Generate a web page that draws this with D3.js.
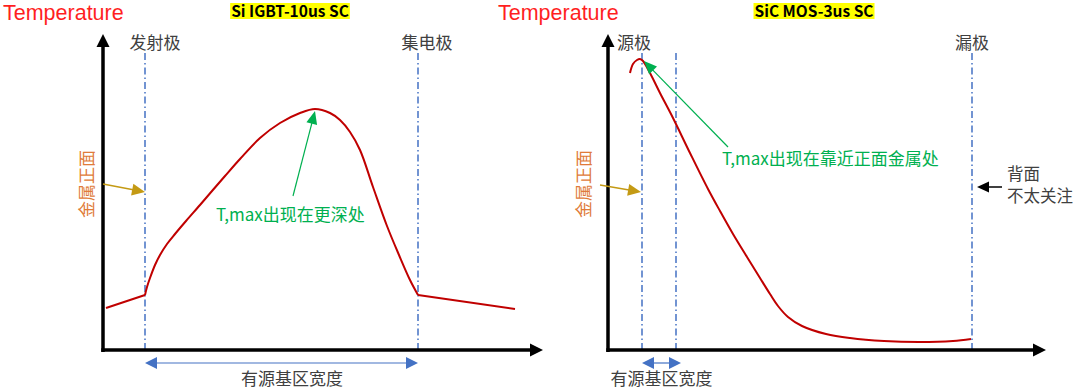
<!DOCTYPE html>
<html><head><meta charset="utf-8">
<script src="https://cdn.jsdelivr.net/npm/d3@7"></script>
<style>
html,body{margin:0;padding:0;background:#fff;}
svg text{font-family:"Noto Sans CJK SC","Noto Sans",sans-serif;}
svg text.temp{font-family:"Liberation Sans",Arial,sans-serif;}
</style></head>
<body><svg id="c" width="1080" height="391"></svg>
<script>
// ---------- data (x: depth units, y: temperature units) ----------
const titles = ["Si IGBT-10us SC", "SiC MOS-3us SC"];
const yLabel = "Temperature";
const leftElectrodes = ["发射极", "集电极"];
const rightElectrodes = ["源极", "漏极"];
const leftLinesX = [10.5, 78.75];
const rightLinesX = [8.5, 17, 91];
// Si IGBT temperature profile: outer straight parts and inner curved part
const igbtLeft = [[0.75, 10.5], [10.5, 13.75]];
const igbtMid = [[10.5, 13.75], [11, 15.75], [11.75, 18], [13, 21.25], [14.25, 23.75], [16, 26.5], [18, 29],
  [20.75, 32.25], [24.25, 36.25], [27.25, 39.75], [30.5, 43.5], [34.25, 47.75], [39.25, 53], [44.25, 56.75],
  [49.25, 59.25], [53, 60.25], [56.75, 59.25], [59.25, 57.5], [61.75, 54.5], [64.25, 50],
  [67.5, 40.75], [71, 31], [74, 23.75], [76.75, 17.5], [78.75, 13.75]];
const igbtRight = [[78.75, 13.75], [103, 10.25]];
// SiC MOSFET temperature profile
const sicCurve = [[5.5, 69.25], [6.25, 71.5], [7.25, 72.5], [8, 72.75], [8.75, 72.25], [10.5, 69.25],
  [13, 64.25], [16.25, 58], [20.5, 49.25], [25, 40.25], [28, 34.75], [31.25, 29], [34.75, 23.25],
  [38, 18], [40.5, 14], [42.5, 11], [45, 8.25], [48.5, 6], [54.5, 4], [60.5, 3], [69, 2.25],
  [77.75, 2], [86.25, 2.25], [90.75, 2.75]];
const frontLabel = "金属正面";
const widthLabel = "有源基区宽度";
const igbtNote = "T,max出现在更深处";
const sicNote = "T,max出现在靠近正面金属处";
const backNote = ["背面", "不太关注"];
const leftWidthSpan = [10.5, 78.75];
const rightWidthSpan = [8.5, 18.25];

// ---------- drawing ----------
const svg = d3.select("#c");
const RED = "#c00000", BLUE = "#4472c4", GREEN = "#00b050", GOLD = "#c49a14", ORANGE = "#e07b39";

function arrow(g, p0, p1, color, w, headL, headW) {
  const dx = p1[0] - p0[0], dy = p1[1] - p0[1], L = Math.hypot(dx, dy);
  const ux = dx / L, uy = dy / L;
  const bx = p1[0] - ux * headL, by = p1[1] - uy * headL;
  g.append("line").attr("x1", p0[0]).attr("y1", p0[1]).attr("x2", bx + ux).attr("y2", by + uy)
    .attr("stroke", color).attr("stroke-width", w);
  g.append("polygon").attr("fill", color)
    .attr("points", [[p1[0], p1[1]], [bx - uy * headW, by + ux * headW], [bx + uy * headW, by - ux * headW]].map(p => p.join(",")).join(" "));
}

function panel(opt) {
  const g = svg.append("g");
  const x = d3.scaleLinear().domain([0, opt.xMax]).range([opt.ox, opt.ox + opt.xMax * 4]);
  const y = d3.scaleLinear().domain([0, 79]).range([350, 34]);
  const P = d => [x(d[0]), y(d[1])];

  // temperature label & title
  g.append("text").attr("class", "temp").attr("x", opt.tempX).attr("y", 20).attr("fill", "#ff1f1f")
    .attr("font-size", 21.5).text(yLabel);
  const bg = g.append("rect");
  const t = g.append("text").attr("x", opt.titleX).attr("y", 16.5).attr("text-anchor", "middle")
    .attr("font-size", 15.5).attr("font-weight", "bold").attr("fill", "#000").text(opt.title);
  const bb = t.node().getBBox();
  bg.attr("x", bb.x - 1).attr("y", 3).attr("width", bb.width + 2).attr("height", 16).attr("fill", "#ffff00");

  // dash-dot guide lines
  opt.lines.forEach(v => g.append("line").attr("x1", x(v)).attr("x2", x(v)).attr("y1", y(74.25)).attr("y2", y(0))
    .attr("stroke", BLUE).attr("stroke-width", 1.5).attr("stroke-dasharray", "7,3,1.5,3"));

  // axes
  g.append("line").attr("x1", x(0)).attr("x2", x(0)).attr("y1", y(0) + 2).attr("y2", y(79) + 11)
    .attr("stroke", "#000").attr("stroke-width", 3.5);
  g.append("line").attr("x1", x(0) - 1.75).attr("x2", x(opt.xMax) - 11).attr("y1", y(0)).attr("y2", y(0))
    .attr("stroke", "#000").attr("stroke-width", 3.5);
  g.append("polygon").attr("fill", "#000")
    .attr("points", `${x(0)},${y(79)} ${x(0) - 6.5},${y(79) + 13} ${x(0) + 6.5},${y(79) + 13}`);
  g.append("polygon").attr("fill", "#000")
    .attr("points", `${x(opt.xMax)},${y(0)} ${x(opt.xMax) - 13},${y(0) - 6.5} ${x(opt.xMax) - 13},${y(0) + 6.5}`);

  // electrode labels
  opt.elabels.forEach(e => g.append("text").attr("x", e.x).attr("y", 49).attr("text-anchor", "middle")
    .attr("font-size", 17).attr("fill", "#404040").text(e.t));

  // curves
  opt.curves.forEach(c => g.append("path").datum(c.d)
    .attr("d", d3.line().x(d => x(d[0])).y(d => y(d[1])).curve(c.curve)(c.d))
    .attr("fill", "none").attr("stroke", RED).attr("stroke-width", 2).attr("stroke-linejoin", "round"));

  // front metal label + arrow
  g.append("text").attr("transform", `translate(${opt.frontX},184) rotate(-90)`).attr("text-anchor", "middle")
    .attr("dominant-baseline", "central").attr("font-size", 17).attr("fill", ORANGE).text(frontLabel);
  arrow(g, P(opt.gold[0]), P(opt.gold[1]), GOLD, 1.5, 13, 6);

  // green note
  arrow(g, P(opt.green[0]), P(opt.green[1]), GREEN, 1.2, 13, 5.5);
  g.append("text").attr("x", opt.noteX).attr("y", opt.noteY).attr("font-size", 17).attr("fill", GREEN).text(opt.note);

  // width arrow
  const wy = y(-3.25);
  const a = x(opt.span[0]), b = x(opt.span[1]);
  g.append("line").attr("x1", a + 10).attr("x2", b - 10).attr("y1", wy).attr("y2", wy).attr("stroke", BLUE).attr("stroke-width", 1.2);
  g.append("polygon").attr("fill", BLUE).attr("points", `${a},${wy} ${a + 12},${wy - 6} ${a + 12},${wy + 6}`);
  g.append("polygon").attr("fill", BLUE).attr("points", `${b},${wy} ${b - 12},${wy - 6} ${b - 12},${wy + 6}`);
  g.append("text").attr("x", opt.widthX).attr("y", 385).attr("text-anchor", "middle")
    .attr("font-size", 17).attr("fill", "#404040").text(widthLabel);
  return { g, x, y, P };
}

panel({
  ox: 103, xMax: 110, tempX: 3, titleX: 290, title: titles[0], lines: leftLinesX,
  elabels: [{ x: 155, t: leftElectrodes[0] }, { x: 427, t: leftElectrodes[1] }],
  curves: [{ d: igbtLeft, curve: d3.curveLinear }, { d: igbtMid, curve: d3.curveCatmullRom }, { d: igbtRight, curve: d3.curveLinear }],
  frontX: 85, gold: [[0, 41.5], [10.5, 39.5]],
  green: [[47.5, 38.5], [53, 59.75]], note: igbtNote, noteX: 216, noteY: 221,
  span: leftWidthSpan, widthX: 292
});

const R = panel({
  ox: 608, xMax: 109.5, tempX: 498, titleX: 814, title: titles[1], lines: rightLinesX,
  elabels: [{ x: 634, t: rightElectrodes[0] }, { x: 972, t: rightElectrodes[1] }],
  curves: [{ d: sicCurve, curve: d3.curveCatmullRom }],
  frontX: 582, gold: [[-2, 41.25], [8.25, 39.5]],
  green: [[30, 50.75], [9, 72.25]], note: sicNote, noteX: 722, noteY: 165,
  span: rightWidthSpan, widthX: 661.5
});
// back-side note
arrow(R.g, R.P([98.5, 40.75]), R.P([92.25, 40.75]), "#000", 1.5, 12, 5.5);
const bn = R.g.append("text").attr("x", 1007).attr("y", 181).attr("font-size", 16.5).attr("fill", "#404040");
bn.append("tspan").attr("x", 1007).attr("y", 180).text(backNote[0]);
bn.append("tspan").attr("x", 1007).attr("y", 202).text(backNote[1]);
</script></body></html>
